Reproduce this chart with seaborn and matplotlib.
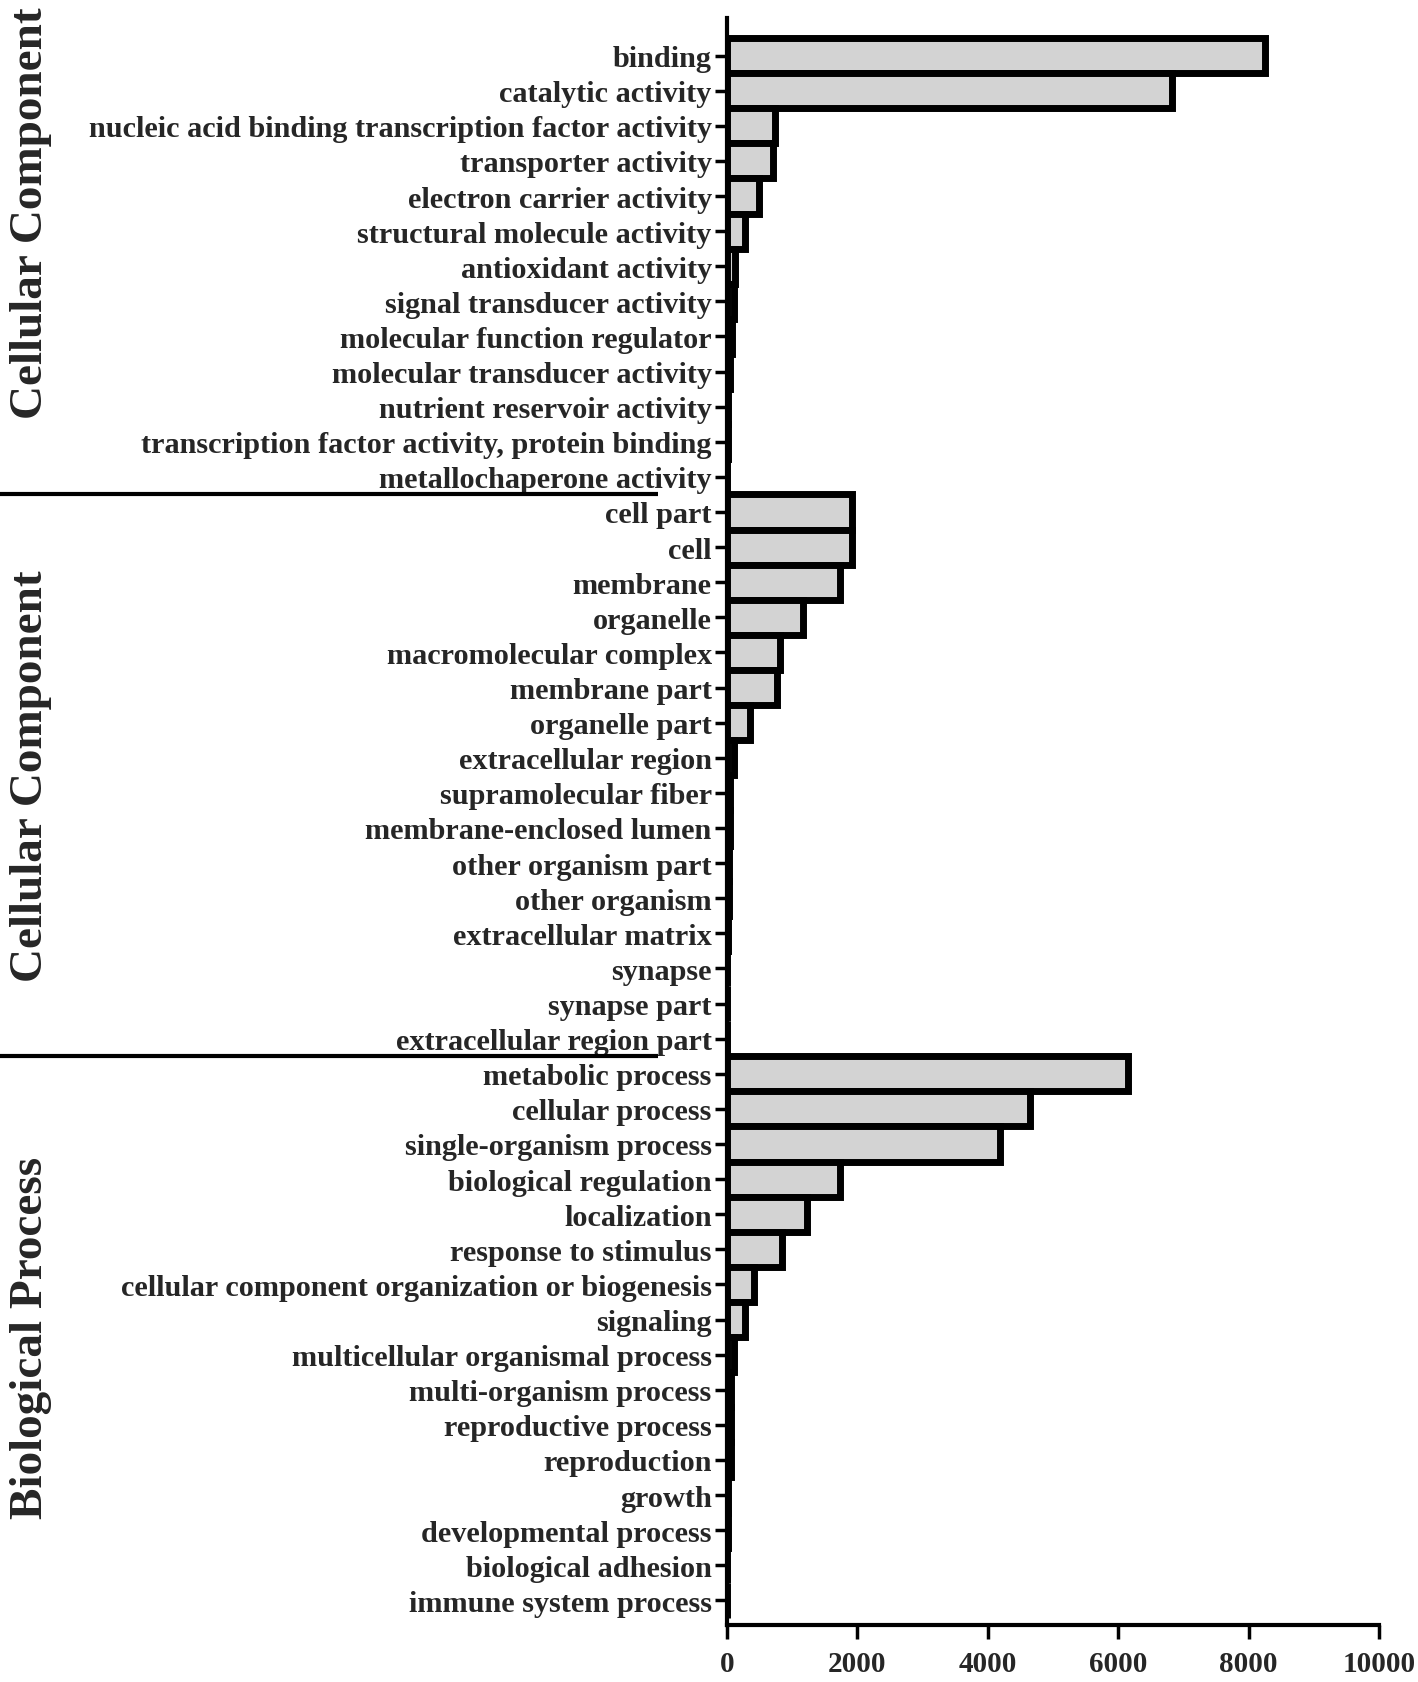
import numpy as np
import pandas as pd
import matplotlib
matplotlib.use('Agg')
import matplotlib.pyplot as plt
import matplotlib.transforms as mtransforms
import seaborn as sns

sns.set_style('white')
plt.rcParams['font.family'] = ['Liberation Serif', 'DejaVu Serif']
plt.rcParams['font.weight'] = 'bold'

mf_terms = ['binding', 'catalytic activity',
            'nucleic acid binding transcription factor activity',
            'transporter activity', 'electron carrier activity',
            'structural molecule activity', 'antioxidant activity',
            'signal transducer activity', 'molecular function regulator',
            'molecular transducer activity', 'nutrient reservoir activity',
            'transcription factor activity, protein binding',
            'metallochaperone activity']
mf_counts = [8250, 6830, 730, 700, 490, 280, 120, 100, 80, 40, 20, 10, 3]

cc_terms = ['cell part', 'cell', 'membrane', 'organelle',
            'macromolecular complex', 'membrane part', 'organelle part',
            'extracellular region', 'supramolecular fiber',
            'membrane-enclosed lumen', 'other organism part',
            'other organism', 'extracellular matrix', 'synapse',
            'synapse part', 'extracellular region part']
cc_counts = [1910, 1910, 1730, 1170, 820, 770, 360, 100, 50, 40, 30, 30,
             10, 5, 5, 3]

bp_terms = ['metabolic process', 'cellular process',
            'single-organism process', 'biological regulation',
            'localization', 'response to stimulus',
            'cellular component organization or biogenesis', 'signaling',
            'multicellular organismal process', 'multi-organism process',
            'reproductive process', 'reproduction', 'growth',
            'developmental process', 'biological adhesion',
            'immune system process']
bp_counts = [6150, 4650, 4190, 1730, 1230, 840, 420, 280, 110, 60, 60, 60,
             10, 8, 5, 5]

group_names = ['Cellular Component', 'Cellular Component', 'Biological Process']

df = pd.DataFrame({
    'term': mf_terms + cc_terms + bp_terms,
    'count': mf_counts + cc_counts + bp_counts,
})

fig = plt.figure(figsize=(14.18, 16.83), dpi=100)
ax = fig.add_axes([0.5127, 0.0339, 0.4598, 0.9548])

sns.barplot(data=df, x='count', y='term', orient='h', color='#d3d3d3',
            saturation=1, edgecolor='black', linewidth=5, width=1.0, ax=ax)

n = len(df)
ax.set_ylim(n - 0.3, -1.07)
ax.set_xlim(0, 10000)
ax.set_xticks(np.arange(0, 10001, 2000))
ax.set_xlabel('')
ax.set_ylabel('')

for side in ['top', 'right']:
    ax.spines[side].set_visible(False)
for side in ['left', 'bottom']:
    ax.spines[side].set_linewidth(3)
    ax.spines[side].set_color('black')

ax.tick_params(axis='y', length=9, width=2.5, pad=2, labelsize=21.8,
               left=True, color='black')
ax.tick_params(axis='x', length=10, width=2.5, pad=8, labelsize=21,
               bottom=True, color='black')
for lab in ax.get_xticklabels() + ax.get_yticklabels():
    lab.set_fontweight('bold')

# separators between GO categories and group labels
trans = mtransforms.blended_transform_factory(ax.transAxes, ax.transData)
sizes = [len(mf_terms), len(cc_terms), len(bp_terms)]
edges = np.cumsum([0] + sizes)
for b in edges[1:-1]:
    ax.plot([-1.115, -0.106], [b - 0.5, b - 0.5], color='black', lw=3,
            transform=trans, clip_on=False, solid_capstyle='butt')

label_rows = [4.45, (edges[1] + edges[2] - 1) / 2, (edges[2] + edges[3] - 1) / 2]
for name, yc in zip(group_names, label_rows):
    ax.text(-1.068, yc, name, transform=trans, rotation=90, fontsize=34,
            fontweight='bold', ha='center', va='center')

fig.savefig('out.png', dpi=100)
